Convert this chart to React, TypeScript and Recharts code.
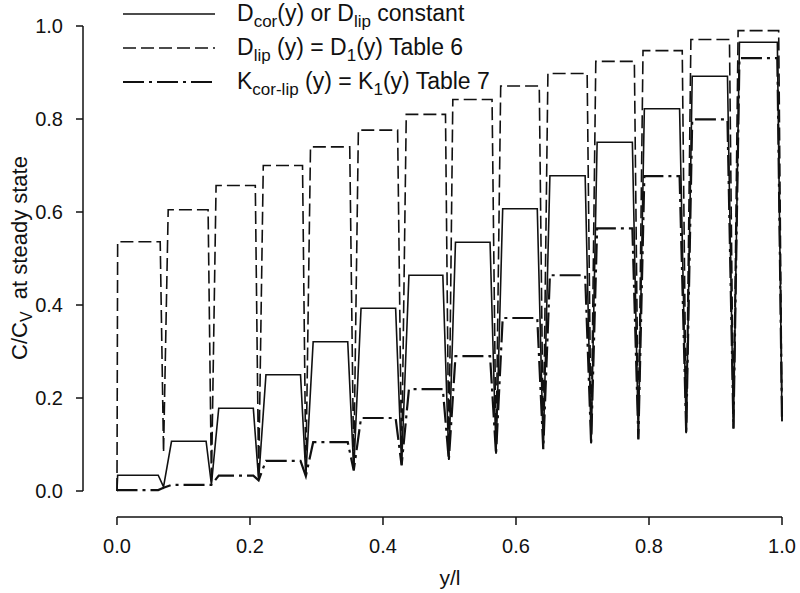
import { LineChart, Line, XAxis, YAxis, ReferenceLine, Legend } from "recharts";

// x positions of the lipid layers (dips) between corneocytes, y/l
const layerEdges = [0, 0.07, 0.142, 0.213, 0.284, 0.356, 0.428, 0.499, 0.57, 0.641, 0.713, 0.784, 0.856, 0.927, 1.0];
// plateau extents (solid + dash-dot curves)
const cellStart = [0.001, 0.082, 0.153, 0.224, 0.295, 0.367, 0.439, 0.509, 0.58, 0.651, 0.722, 0.793, 0.865, 0.936];
const cellEnd = [0.062, 0.134, 0.205, 0.276, 0.347, 0.419, 0.49, 0.561, 0.632, 0.704, 0.775, 0.846, 0.918, 0.993];
// plateau extents (dashed curve)
const dashedStart = [0.001, 0.077, 0.149, 0.22, 0.291, 0.363, 0.435, 0.505, 0.577, 0.648, 0.72, 0.791, 0.863, 0.934];
const dashedEnd = [0.065, 0.137, 0.208, 0.279, 0.35, 0.422, 0.494, 0.564, 0.635, 0.707, 0.778, 0.85, 0.921, 0.995];

// D_cor(y) or D_lip constant
const constPlateau = [0.034, 0.107, 0.178, 0.25, 0.321, 0.393, 0.464, 0.535, 0.607, 0.678, 0.75, 0.822, 0.892, 0.965];
const constDips = [0, 0.009, 0.014, 0.024, 0.033, 0.045, 0.056, 0.067, 0.08, 0.091, 0.102, 0.112, 0.124, 0.135, 0.15];
// D_lip(y) = D_1(y) Table 6
const lipPlateau = [0.536, 0.605, 0.657, 0.7, 0.74, 0.776, 0.81, 0.842, 0.871, 0.898, 0.924, 0.947, 0.971, 0.99];
const lipDips = [0, 0.083, 0.016, 0.026, 0.035, 0.046, 0.057, 0.068, 0.081, 0.092, 0.103, 0.113, 0.125, 0.136, 0.15];
// K_cor-lip(y) = K_1(y) Table 7
const kPlateau = [0.002, 0.013, 0.033, 0.065, 0.105, 0.157, 0.219, 0.29, 0.372, 0.464, 0.565, 0.677, 0.799, 0.931];
const kDips = [0, 0.007, 0.013, 0.023, 0.032, 0.044, 0.055, 0.066, 0.079, 0.09, 0.101, 0.111, 0.123, 0.134, 0.15];

const xTicks = [0, 0.2, 0.4, 0.6, 0.8, 1.0];
const yTicks = [0, 0.2, 0.4, 0.6, 0.8, 1.0];

const FONT = '"Liberation Sans", Arial, sans-serif';
const INK = "#111";
const X_MIN = -0.0511;
const Y_MIN = -0.0559;

function buildProfile(starts: number[], ends: number[], plateau: number[], dips: number[]) {
  const pts = [{ x: layerEdges[0], y: dips[0] }];
  plateau.forEach((v, k) => {
    pts.push({ x: starts[k], y: v });
    pts.push({ x: ends[k], y: v });
    pts.push({ x: layerEdges[k + 1], y: dips[k + 1] });
  });
  return pts;
}

const constData = buildProfile(cellStart, cellEnd, constPlateau, constDips);
const lipData = buildProfile(dashedStart, dashedEnd, lipPlateau, lipDips);
const kData = buildProfile(cellStart, cellEnd, kPlateau, kDips);

type Part = [string, boolean?];
const legendRows: { dash?: string; width: number; parts: Part[] }[] = [
  { width: 1.6, parts: [["D"], ["cor", true], ["(y) or D"], ["lip", true], [" constant"]] },
  { dash: "13 5", width: 1.6, parts: [["D"], ["lip", true], [" (y) = D"], ["1", true], ["(y) Table 6"]] },
  { dash: "21 5 3 5", width: 2.2, parts: [["K"], ["cor-lip", true], [" (y) = K"], ["1", true], ["(y) Table 7"]] },
];

function renderParts(parts: Part[]) {
  let shift = 0;
  return parts.map(([t, sub], i) => {
    const target = sub ? 6 : 0;
    const dy = target - shift;
    shift = target;
    return (
      <tspan key={i} dy={dy} fontSize={sub ? 17 : 23}>
        {t}
      </tspan>
    );
  });
}

function LegendBox() {
  const lineY = [14, 48, 82];
  const textY = [21, 55, 89];
  return (
    <svg width={540} height={100} style={{ display: "block" }}>
      {legendRows.map((r, i) => (
        <g key={i}>
          <line x1={5} x2={97} y1={lineY[i]} y2={lineY[i]} stroke={INK} strokeWidth={r.width} strokeDasharray={r.dash} />
          <text x={119} y={textY[i]} fill={INK} fontFamily={FONT} style={{ whiteSpace: "pre" }}>
            {renderParts(r.parts)}
          </text>
        </g>
      ))}
    </svg>
  );
}

function YTitle() {
  return (
    <text transform="translate(27, 258) rotate(-90)" textAnchor="middle" fontSize={22} fill={INK} fontFamily={FONT} style={{ whiteSpace: "pre" }}>
      C/C
      <tspan fontSize={16} dy={5}>V</tspan>
      <tspan dy={-5}>  at steady state</tspan>
    </text>
  );
}

function XTitle() {
  return (
    <text x={450} y={585} textAnchor="middle" fontSize={21} fill={INK} fontFamily={FONT}>
      y/l
    </text>
  );
}

export default function App() {
  const tickStyle = { fontSize: 20, fill: INK, fontFamily: FONT };
  return (
    <div style={{ position: "absolute", left: 0, top: 0, background: "#fff" }}>
      <LineChart width={800} height={593} margin={{ top: 26, right: 18, left: 0, bottom: 0 }}>
        <XAxis
          type="number"
          dataKey="x"
          domain={[X_MIN, 1]}
          ticks={xTicks}
          tickFormatter={(v) => Number(v).toFixed(1)}
          axisLine={false}
          tickSize={8}
          tickMargin={14}
          tickLine={{ stroke: INK, strokeWidth: 1.5 }}
          tick={tickStyle}
          height={76}
          label={<XTitle />}
        />
        <YAxis
          type="number"
          domain={[Y_MIN, 1]}
          ticks={yTicks}
          tickFormatter={(v) => Number(v).toFixed(1)}
          axisLine={false}
          tickSize={7}
          tickMargin={13}
          tickLine={{ stroke: INK, strokeWidth: 1.5 }}
          tick={tickStyle}
          width={83}
          label={<YTitle />}
        />
        <ReferenceLine segment={[{ x: 0, y: Y_MIN }, { x: 1, y: Y_MIN }]} stroke={INK} strokeWidth={1.5} ifOverflow="visible" />
        <ReferenceLine segment={[{ x: X_MIN, y: 0 }, { x: X_MIN, y: 1 }]} stroke={INK} strokeWidth={1.5} ifOverflow="visible" />
        <Legend
          layout="vertical"
          align="center"
          verticalAlign="middle"
          wrapperStyle={{ top: 0, left: 118, width: 540, height: 100 }}
          content={() => <LegendBox />}
        />
        <Line data={lipData} dataKey="y" type="linear" stroke={INK} strokeWidth={1.6} strokeDasharray="13 5" dot={false} activeDot={false} isAnimationActive={false} />
        <Line data={kData} dataKey="y" type="linear" stroke={INK} strokeWidth={2.2} strokeDasharray="21 5 3 5" dot={false} activeDot={false} isAnimationActive={false} />
        <Line data={constData} dataKey="y" type="linear" stroke={INK} strokeWidth={1.6} dot={false} activeDot={false} isAnimationActive={false} />
      </LineChart>
    </div>
  );
}
